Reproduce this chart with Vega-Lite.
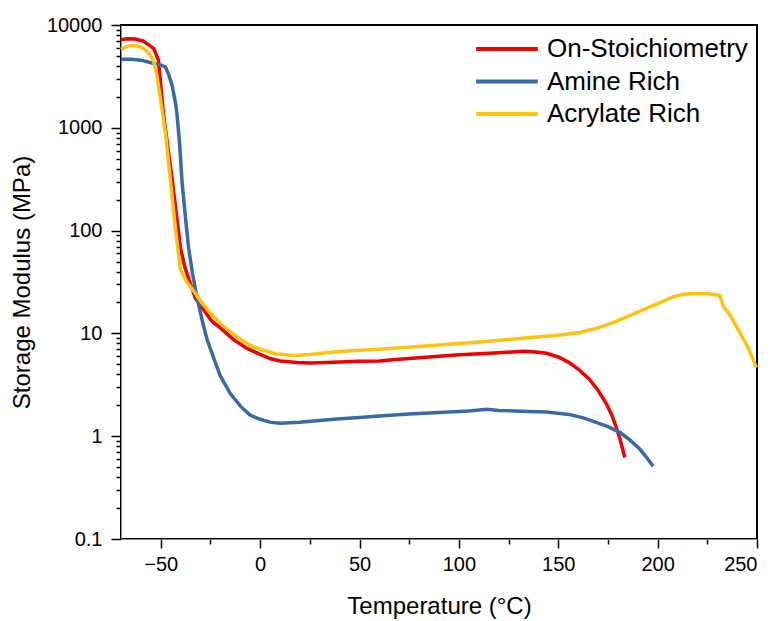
{
  "$schema": "https://vega.github.io/schema/vega-lite/v6.json",
  "width": 636,
  "height": 514,
  "autosize": "none",
  "padding": {"left": 121, "top": 25, "right": 23, "bottom": 82},
  "config": {
    "font": "Liberation Sans",
    "view": {"stroke": "black", "strokeWidth": 2}
  },
  "data": {"values": [
    {"s":"On-Stoichiometry","t":-70,"e":7200},{"s":"On-Stoichiometry","t":-67,"e":7350},{"s":"On-Stoichiometry","t":-63,"e":7300},{"s":"On-Stoichiometry","t":-59,"e":7000},{"s":"On-Stoichiometry","t":-55.5,"e":6300},{"s":"On-Stoichiometry","t":-53.5,"e":5900},{"s":"On-Stoichiometry","t":-51.2,"e":4570},{"s":"On-Stoichiometry","t":-48.6,"e":1337},{"s":"On-Stoichiometry","t":-44.1,"e":299},{"s":"On-Stoichiometry","t":-40.1,"e":68},{"s":"On-Stoichiometry","t":-38,"e":45},{"s":"On-Stoichiometry","t":-36.6,"e":37},{"s":"On-Stoichiometry","t":-32.6,"e":22},{"s":"On-Stoichiometry","t":-28,"e":16.5},{"s":"On-Stoichiometry","t":-25,"e":13.7},{"s":"On-Stoichiometry","t":-24,"e":13},{"s":"On-Stoichiometry","t":-20,"e":11.3},{"s":"On-Stoichiometry","t":-13.5,"e":8.75},{"s":"On-Stoichiometry","t":-7,"e":7.2},{"s":"On-Stoichiometry","t":0,"e":6.25},{"s":"On-Stoichiometry","t":5,"e":5.7},{"s":"On-Stoichiometry","t":10,"e":5.4},{"s":"On-Stoichiometry","t":18.6,"e":5.2},{"s":"On-Stoichiometry","t":25,"e":5.15},{"s":"On-Stoichiometry","t":36.7,"e":5.25},{"s":"On-Stoichiometry","t":50,"e":5.35},{"s":"On-Stoichiometry","t":60,"e":5.4},{"s":"On-Stoichiometry","t":70,"e":5.6},{"s":"On-Stoichiometry","t":80,"e":5.8},{"s":"On-Stoichiometry","t":90,"e":6.0},{"s":"On-Stoichiometry","t":100,"e":6.2},{"s":"On-Stoichiometry","t":110.6,"e":6.35},{"s":"On-Stoichiometry","t":120,"e":6.5},{"s":"On-Stoichiometry","t":133,"e":6.7},{"s":"On-Stoichiometry","t":140,"e":6.55},{"s":"On-Stoichiometry","t":144,"e":6.4},{"s":"On-Stoichiometry","t":150,"e":5.9},{"s":"On-Stoichiometry","t":155.5,"e":5.2},{"s":"On-Stoichiometry","t":160,"e":4.5},{"s":"On-Stoichiometry","t":165.5,"e":3.6},{"s":"On-Stoichiometry","t":170,"e":2.8},{"s":"On-Stoichiometry","t":174,"e":2.1},{"s":"On-Stoichiometry","t":177,"e":1.6},{"s":"On-Stoichiometry","t":179,"e":1.25},{"s":"On-Stoichiometry","t":181,"e":0.95},{"s":"On-Stoichiometry","t":183.5,"e":0.62},
    {"s":"Amine Rich","t":-70,"e":4650},{"s":"Amine Rich","t":-65,"e":4650},{"s":"Amine Rich","t":-60,"e":4550},{"s":"Amine Rich","t":-54,"e":4250},{"s":"Amine Rich","t":-50,"e":4100},{"s":"Amine Rich","t":-47.6,"e":3900},{"s":"Amine Rich","t":-46,"e":3300},{"s":"Amine Rich","t":-44.3,"e":2600},{"s":"Amine Rich","t":-42.5,"e":1700},{"s":"Amine Rich","t":-41.8,"e":1337},{"s":"Amine Rich","t":-40.5,"e":700},{"s":"Amine Rich","t":-39.3,"e":300},{"s":"Amine Rich","t":-37.5,"e":130},{"s":"Amine Rich","t":-36,"e":68},{"s":"Amine Rich","t":-34,"e":38},{"s":"Amine Rich","t":-31.7,"e":22},{"s":"Amine Rich","t":-29,"e":13},{"s":"Amine Rich","t":-26.7,"e":8.75},{"s":"Amine Rich","t":-23,"e":5.5},{"s":"Amine Rich","t":-20,"e":3.85},{"s":"Amine Rich","t":-15,"e":2.6},{"s":"Amine Rich","t":-10,"e":1.97},{"s":"Amine Rich","t":-5,"e":1.6},{"s":"Amine Rich","t":0,"e":1.46},{"s":"Amine Rich","t":5,"e":1.37},{"s":"Amine Rich","t":10,"e":1.34},{"s":"Amine Rich","t":20,"e":1.37},{"s":"Amine Rich","t":36.9,"e":1.46},{"s":"Amine Rich","t":50,"e":1.52},{"s":"Amine Rich","t":60,"e":1.57},{"s":"Amine Rich","t":75,"e":1.64},{"s":"Amine Rich","t":90,"e":1.7},{"s":"Amine Rich","t":105,"e":1.76},{"s":"Amine Rich","t":114,"e":1.83},{"s":"Amine Rich","t":120,"e":1.78},{"s":"Amine Rich","t":135,"e":1.74},{"s":"Amine Rich","t":144,"e":1.72},{"s":"Amine Rich","t":155.5,"e":1.63},{"s":"Amine Rich","t":163,"e":1.5},{"s":"Amine Rich","t":169,"e":1.36},{"s":"Amine Rich","t":175,"e":1.24},{"s":"Amine Rich","t":181,"e":1.09},{"s":"Amine Rich","t":186,"e":0.92},{"s":"Amine Rich","t":191,"e":0.75},{"s":"Amine Rich","t":194.5,"e":0.62},{"s":"Amine Rich","t":197.7,"e":0.51},
    {"s":"Acrylate Rich","t":-70,"e":5800},{"s":"Acrylate Rich","t":-67,"e":6200},{"s":"Acrylate Rich","t":-64.4,"e":6350},{"s":"Acrylate Rich","t":-61,"e":6200},{"s":"Acrylate Rich","t":-58.5,"e":5900},{"s":"Acrylate Rich","t":-55.5,"e":5200},{"s":"Acrylate Rich","t":-53.5,"e":4400},{"s":"Acrylate Rich","t":-52,"e":3300},{"s":"Acrylate Rich","t":-50.2,"e":1940},{"s":"Acrylate Rich","t":-47.5,"e":850},{"s":"Acrylate Rich","t":-45.1,"e":300},{"s":"Acrylate Rich","t":-42.5,"e":100},{"s":"Acrylate Rich","t":-40.1,"e":41.8},{"s":"Acrylate Rich","t":-37,"e":32},{"s":"Acrylate Rich","t":-33.4,"e":25.8},{"s":"Acrylate Rich","t":-29,"e":19.5},{"s":"Acrylate Rich","t":-25,"e":15.7},{"s":"Acrylate Rich","t":-19,"e":12},{"s":"Acrylate Rich","t":-13.3,"e":9.8},{"s":"Acrylate Rich","t":-7,"e":8.0},{"s":"Acrylate Rich","t":0,"e":7.0},{"s":"Acrylate Rich","t":8,"e":6.3},{"s":"Acrylate Rich","t":16.8,"e":6.1},{"s":"Acrylate Rich","t":25,"e":6.25},{"s":"Acrylate Rich","t":36.9,"e":6.6},{"s":"Acrylate Rich","t":50,"e":6.85},{"s":"Acrylate Rich","t":60.3,"e":7.0},{"s":"Acrylate Rich","t":70.5,"e":7.25},{"s":"Acrylate Rich","t":90,"e":7.7},{"s":"Acrylate Rich","t":110.6,"e":8.24},{"s":"Acrylate Rich","t":125,"e":8.7},{"s":"Acrylate Rich","t":135.8,"e":9.1},{"s":"Acrylate Rich","t":150,"e":9.6},{"s":"Acrylate Rich","t":160.9,"e":10.2},{"s":"Acrylate Rich","t":170,"e":11.3},{"s":"Acrylate Rich","t":177.6,"e":12.7},{"s":"Acrylate Rich","t":185,"e":14.6},{"s":"Acrylate Rich","t":189.4,"e":15.9},{"s":"Acrylate Rich","t":200,"e":19.5},{"s":"Acrylate Rich","t":207.8,"e":22.7},{"s":"Acrylate Rich","t":213,"e":24},{"s":"Acrylate Rich","t":219.5,"e":24.4},{"s":"Acrylate Rich","t":226,"e":24.3},{"s":"Acrylate Rich","t":231.3,"e":23.4},{"s":"Acrylate Rich","t":233,"e":18.4},{"s":"Acrylate Rich","t":237,"e":14.5},{"s":"Acrylate Rich","t":241.3,"e":10.2},{"s":"Acrylate Rich","t":245.5,"e":7.3},{"s":"Acrylate Rich","t":249.7,"e":4.65}
  ]},
  "layer": [
    {
      "mark": {"type": "line", "opacity": 0},
      "encoding": {
        "x": {
          "field": "t", "type": "quantitative",
          "scale": {"domain": [-70, 250], "nice": false, "zero": false},
          "axis": {"orient": "bottom", "title": null, "labels": false, "grid": false, "tickSize": 5, "tickColor": "black", "tickWidth": 1.5,
            "values": [-25, 25, 75, 125, 175, 225]}
        },
        "y": {
          "field": "e", "type": "quantitative",
          "scale": {"type": "log", "domain": [0.1, 10000], "nice": false},
          "axis": {"orient": "left", "title": null, "labels": false, "grid": false, "tickSize": 5, "tickColor": "black", "tickWidth": 1.5,
            "values": [0.2,0.3,0.4,0.5,0.6,0.7,0.8,0.9,2,3,4,5,6,7,8,9,20,30,40,50,60,70,80,90,200,300,400,500,600,700,800,900,2000,3000,4000,5000,6000,7000,8000,9000]}
        }
      }
    },
    {
      "mark": {"type": "line", "strokeWidth": 3.5},
      "encoding": {
        "x": {
          "field": "t", "type": "quantitative",
          "scale": {"domain": [-70, 250], "nice": false, "zero": false},
          "axis": {
            "orient": "bottom",
            "title": "Temperature (°C)",
            "values": [-50, 0, 50, 100, 150, 200, 250],
            "grid": false,
            "tickSize": 9, "tickColor": "black", "tickWidth": 1.5,
            "labelFontSize": 20, "labelColor": "black", "labelOverlap": false,
            "titleFontSize": 24, "titleFontWeight": "normal", "titleColor": "black",
            "labelPadding": 6,
            "titlePadding": 20
          }
        },
        "y": {
          "field": "e", "type": "quantitative",
          "scale": {"type": "log", "domain": [0.1, 10000], "nice": false},
          "axis": {
            "orient": "left",
            "title": "Storage Modulus (MPa)",
            "values": [0.1, 1, 10, 100, 1000, 10000],
            "labelExpr": "datum.value < 1 ? '0.1' : format(datum.value, 'd')",
            "grid": false,
            "tickSize": 10, "tickColor": "black", "tickWidth": 1.5,
            "labelFontSize": 20, "labelColor": "black", "labelOverlap": false,
            "titleFontSize": 24, "titleFontWeight": "normal", "titleColor": "black",
            "labelPadding": 9,
            "titlePadding": 12
          }
        },
        "color": {
          "field": "s", "type": "nominal",
          "scale": {"domain": ["On-Stoichiometry", "Amine Rich", "Acrylate Rich"], "range": ["#F00000", "#386BA3", "#FFC20E"]},
          "legend": {
            "title": null, "orient": "none", "legendX": 353, "legendY": 8,
            "symbolType": "stroke", "symbolStrokeWidth": 4, "symbolSize": 3800,
            "clipHeight": 32,
            "labelFontSize": 26, "labelColor": "black", "labelOffset": 7, "rowPadding": 0.5, "labelLimit": 400
          }
        }
      }
    }
  ],
  "resolve": {"axis": {"x": "independent", "y": "independent"}}
}
